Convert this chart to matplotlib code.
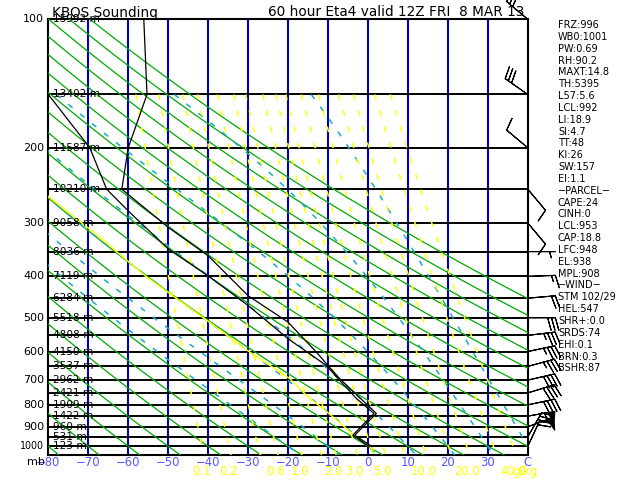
import numpy as np
import matplotlib
matplotlib.use("Agg")
import matplotlib.pyplot as plt
from matplotlib import font_manager

# pick a narrow font when one is installed, the original uses a thin stroke font
_names = {f.name for f in font_manager.fontManager.ttflist}
if "Liberation Sans Narrow" in _names:
    FONT, FS = "Liberation Sans Narrow", 1.0
else:
    FONT, FS = "DejaVu Sans", 0.8
plt.rcParams["font.family"] = FONT
plt.rcParams["lines.scale_dashes"] = False

# ---- values ----
pres_labels = [100, 200, 300, 400, 500, 600, 700, 800, 900, 1000]
isobars = [150, 200, 250, 300, 350, 400, 450, 500, 550, 600, 650, 700,
           750, 800, 850, 900, 950, 1000]
isotherms = [-70, -60, -50, -40, -30, -20, -10, 0, 10, 20, 30]
temp_labels = [-80, -70, -60, -50, -40, -30, -20, -10, 0, 10, 20, 30]

hgt_p = [100, 150, 200, 250, 300, 350, 400, 450, 500, 550, 600, 650, 700,
         750, 800, 850, 900, 950, 1000]
hgt_m = [15992, 13402, 11587, 10210, 9058, 8036, 7119, 6284, 5518, 4808,
         4150, 3537, 2962, 2421, 1909, 1422, 960, 531, 123]

temp_p = [1002, 942, 838, 694, 647, 602, 512, 444, 358, 307, 250, 200, 150, 100]
temp_c = [1.0, -3.3, 2.1, -7.1, -10.0, -12.9, -20.0, -30.0, -40.0, -50.0,
          -61.6, -60.0, -55.3, -56.1]

dwpt_p = [1002, 942, 838, 773, 694, 647, 560, 468, 399, 345, 281, 250, 200, 150]
dwpt_c = [0.3, -3.8, 1.5, -2.9, -7.5, -10.4, -20.0, -30.0, -40.0, -50.0,
          -60.0, -65.4, -69.6, -80.0]

parcel_p = [1020, 950, 850, 760, 694, 600, 500, 400, 324, 260]
parcel_c = [1.5, -3.0, -9.0, -15.4, -19.6, -29.8, -41.2, -55.6, -67.1, -80.0]

wind_p = [100, 150, 200, 250, 300, 350, 400, 450, 500, 550, 600, 650, 700,
          750, 800, 850, 900, 950, 1000]
wind_dir = [310, 305, 310, 140, 140, 90, 88, 85, 90, 83, 78, 75, 77, 73, 78,
            80, 70, 30, 25]
wind_kt = [25, 30, 10, 10, 10, 5, 15, 20, 30, 35, 35, 35, 40, 40, 40, 55, 50,
           30, 20]

# background guide lines (values at 1000 mb)
dry_theta = [-80, -70, -60, -50, -40, -30, -20, -10, 0, 10, 20, 30, 40, 50,
             60, 70, 80, 90, 100, 110, 120]
moist_thw = [-20, -10, 0, 10, 20, 30, 40]
mix_lines = [0.1, 0.2, 0.4, 0.6, 1.0, 1.5, 2.0, 3.0, 4.0, 5.0, 7.0, 10.0,
             15.0, 20.0, 30.0, 40.0]
mix_labels = [0.1, 0.2, 0.6, 1.0, 2.0, 3.0, 5.0, 10.0, 20.0, 40.0]

index_lines = ["FRZ:996", "WB0:1001", "PW:0.69", "RH:90.2", "MAXT:14.8",
               "TH:5395", "L57:5.6", "LCL:992", "LI:18.9", "SI:4.7", "TT:48",
               "KI:26", "SW:157", "EI:1.1", "\u2212PARCEL\u2212", "CAPE:24",
               "CINH:0", "LCL:953", "CAP:18.8", "LFC:948", "EL:938", "MPL:908",
               "\u2212WIND\u2212", "STM 102/29", "HEL:547", "SHR+:0.0", "SRDS:74",
               "EHI:0.1", "BRN:0.3", "BSHR:87"]

BLUE = "#0000c0"
LBLUE = "#5656ff"
GREEN = "#00a800"
CYAN = "#18aac4"
YELLOW = "#ffff00"


def es(tc):
    return 6.112 * np.exp(17.67 * tc / (tc + 243.5))


def moist_curve(thw, p_top=150.0, p_bot=1050.0, step=5.0):
    Rd, cp, Lv, eps = 287.04, 1005.7, 2.501e6, 0.622

    def f(p, t):
        e = es(t - 273.15)
        rs = eps * e / (p - e)
        return (Rd * t + Lv * rs) / (cp + Lv * Lv * rs * eps / (Rd * t * t)) / p

    out = []
    for target, dp in ((p_top, -step), (p_bot, step)):
        p, t = 1000.0, thw + 273.15
        ps, ts = [p], [t]
        while (p - target) * np.sign(dp) < 0:
            h = dp
            k1 = f(p, t)
            k2 = f(p + h / 2, t + h * k1 / 2)
            k3 = f(p + h / 2, t + h * k2 / 2)
            k4 = f(p + h, t + h * k3)
            t += h * (k1 + 2 * k2 + 2 * k3 + k4) / 6
            p += h
            ps.append(p)
            ts.append(t)
        out.append((ps, ts))
    ps = out[0][0][::-1] + out[1][0][1:]
    ts = out[0][1][::-1] + out[1][1][1:]
    return np.array(ps), np.array(ts) - 273.15


def mix_temp(w, p):
    e = w * p / (622.0 + w)
    a = np.log(e / 6.112)
    return 243.5 * a / (17.67 - a)


fig = plt.figure(figsize=(6.4, 4.8), dpi=100)
W, H = 640.0, 480.0
ax = fig.add_axes([48.3 / W, 1 - 455.3 / H, (527.8 - 48.3) / W, (455.3 - 19.3) / H])
ax.set_yscale("log")
ax.set_xlim(-80, 40)
ax.set_ylim(1050, 100)
ax.set_xticks([])
ax.set_yticks([])
ax.minorticks_off()
for s in ax.spines.values():
    s.set_linewidth(1.5)
    s.set_color("black")

# grid
for t in isotherms:
    ax.axvline(t, color=BLUE, lw=1.5, zorder=1)
for p in isobars:
    ax.axhline(p, color="black", lw=1.4, zorder=2)

# dry adiabats
pp = np.geomspace(100, 1050, 120)
for th in dry_theta:
    ax.plot((th + 273.15) * (pp / 1000.0) ** 0.2857 - 273.15, pp,
            color=GREEN, lw=0.9, zorder=3)

# moist adiabats
for thw in moist_thw:
    mp, mt = moist_curve(thw)
    ax.plot(mt, mp, color=CYAN, lw=1.1, ls=(0, (4, 7)), zorder=3)

# mixing ratio lines
pm = np.geomspace(150, 1050, 60)
for w in mix_lines:
    ax.plot(mix_temp(w, pm), pm, color=YELLOW, lw=1.1, ls=(0, (4, 8)), zorder=3)

# parcel path
ax.plot(parcel_c, parcel_p, color=YELLOW, lw=1.0, zorder=4)

# profiles
ax.plot(temp_c, temp_p, color="black", lw=0.9, zorder=6)
ax.plot(dwpt_c, dwpt_p, color="black", lw=0.9, zorder=6)

# wind barbs at the right edge
d = np.radians(wind_dir)
u = -np.array(wind_kt) * np.sin(d)
v = -np.array(wind_kt) * np.cos(d)
ax.barbs(np.full(len(wind_p), 40.0), wind_p, u, v, length=6.3,
         sizes=dict(height=0.45, spacing=0.14), color="black", lw=0.8,
         clip_on=False, zorder=7)

# height labels on the isobars
for p, h in zip(hgt_p, hgt_m):
    ax.text(-78.8, p, f"{h} m", ha="left", va="center", fontsize=9.5 * FS,
            color="black", zorder=8)

# pressure labels
for p in pres_labels:
    ax.text(-81.0, p, str(p), ha="right", va="center",
            fontsize=(8.6 if p == 1000 else 10.0) * FS, clip_on=False)
fig.text(27 / W, 1 - 462 / H, "mb", ha="left", va="center", fontsize=10 * FS)

# temperature labels
for t in temp_labels:
    ax.annotate(f"\u2212{abs(t)}" if t < 0 else str(t), xy=(t, 1050),
                xytext=(0, -5.2), textcoords="offset points", ha="center",
                va="center", fontsize=10.5 * FS, color=LBLUE,
                annotation_clip=False)
ax.annotate("C", xy=(40, 1050), xytext=(0, -5.2), textcoords="offset points",
            ha="center", va="center", fontsize=10.5 * FS, color=LBLUE,
            annotation_clip=False)

# mixing ratio labels
for w in mix_labels:
    ax.annotate(f"{w:.1f}", xy=(mix_temp(w, 1000.0), 1050), xytext=(0, -11.6),
                textcoords="offset points", ha="center", va="center",
                fontsize=10.5 * FS, color=YELLOW, annotation_clip=False)
fig.text(512 / W, 1 - 471 / H, "g/kg", ha="left", va="center",
         fontsize=10.5 * FS, color=YELLOW)

# titles
fig.text(52 / W, 1 - 12.5 / H, "KBOS Sounding", ha="left", va="center",
         fontsize=12.3 * FS)
fig.text(268 / W, 1 - 12.5 / H, "60 hour Eta4 valid 12Z FRI  8 MAR 13",
         ha="left", va="center", fontsize=12.3 * FS)

# index block on the right
for i, s in enumerate(index_lines):
    fig.text(558 / W, 1 - (25 + i * 11.84) / H, s, ha="left", va="center",
             fontsize=8.8 * FS)

fig.savefig("out.png", dpi=100, facecolor="white")
